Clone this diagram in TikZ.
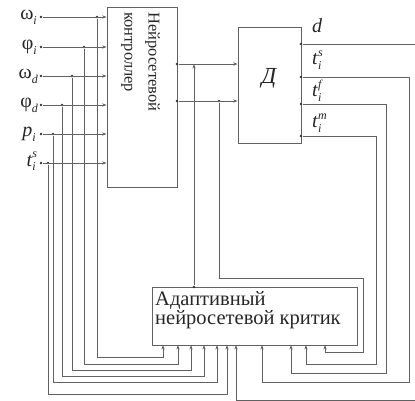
\documentclass[tikz,border=0pt]{standalone}
\usepackage{fontspec}
\setmainfont{Liberation Serif}
\usetikzlibrary{arrows.meta}
\newcommand\SupSub[2]{\makebox[0pt][l]{\raisebox{8.5pt}{\fontsize{12}{12}\selectfont\itshape #1}}\raisebox{-4.5pt}{\fontsize{12}{12}\selectfont\itshape #2}}
\newcommand\SubOnly[1]{\raisebox{-4.5pt}{\fontsize{12}{12}\selectfont\itshape #1}}
\tikzset{
  wire/.style={draw=black!62, line width=0.75pt},
  arr/.style={wire, -{Stealth[length=4.5pt,width=3.2pt]}},
  jdot/.style={circle, fill=black!80, inner sep=0pt, minimum size=2.8pt},
  blk/.style={draw=black!62, line width=0.8pt, inner sep=0pt},
  lab/.style={inner sep=0pt, font=\fontsize{20}{20}\selectfont, text=black!85},
}
\begin{document}
\begin{tikzpicture}[x=1pt,y=-1pt]
\useasboundingbox (0,0) rectangle (415,401);
\begin{scope}
\clip (0,0) rectangle (415,401);

% blocks
\node[blk, minimum width=70pt, minimum height=180pt] (ctrl) at (142,97) {};
\node[blk, minimum width=63pt, minimum height=116pt] (dblk) at (269.5,85) {};
\node[blk, minimum width=205pt, minimum height=58pt] (crit) at (254.5,316) {};

% block texts
\node[inner sep=0pt, rotate=-90, anchor=north west, align=left,
      font=\fontsize{16.5}{24}\selectfont, text=black!85] (ctxt) at (160,12)
      {Нейросетевой\\контроллер};
\node[inner sep=0pt, font=\fontsize{23}{23}\selectfont\itshape, text=black!85] (dtxt) at (269,78) {Д};
\node[inner sep=0pt, anchor=north west, align=left,
      font=\fontsize{20.5}{19}\selectfont, text=black!85] (ktxt) at (155,291)
      {Адаптивный\\нейросетевой критик};

% input labels
\node[lab, anchor=base east] (lwi) at (37,20) {ω\SubOnly{i}};
\node[lab, anchor=base east] (lpi) at (37,50) {φ\SubOnly{i}};
\node[lab, anchor=base east] (lwd) at (38,79) {ω\SubOnly{d}};
\node[lab, anchor=base east] (lpd) at (38,108) {φ\SubOnly{d}};
\node[lab, anchor=base east] (lp) at (36,137) {\textit{p}\SubOnly{i}};
\node[lab, anchor=base east] (lt) at (36,166) {\textit{t}\SupSub{s}{i}};

% output labels of D
\node[lab, anchor=base west] (ld) at (312,33) {\textit{d}};
\node[lab, anchor=base west] (lts) at (312,65) {\textit{t}\SupSub{s}{i}};
\node[lab, anchor=base west] (ltf) at (312,97) {\textit{t}\SupSub{f}{i}};
\node[lab, anchor=base west] (ltm) at (312,128) {\textit{t}\SupSub{m}{i}};

% input dots and taps
\node[jdot] (dwi) at (41,17) {};
\node[jdot] (dpi) at (41,47) {};
\node[jdot] (dwd) at (41,76) {};
\node[jdot] (dpd) at (41,105) {};
\node[jdot] (dp) at (41,134) {};
\node[jdot] (dt) at (41,163) {};
\node[jdot] (twi) at (97,17) {};
\node[jdot] (tpi) at (84,47) {};
\node[jdot] (twd) at (72,76) {};
\node[jdot] (tpd) at (62,105) {};
\node[jdot] (tp) at (53,134) {};
\node[jdot] (tt) at (48,163) {};

% controller outputs
\node[jdot] (o1) at (177,64) {};
\node[jdot] (o2) at (177,101) {};
\node[jdot] (o2t) at (219,101) {};
\node[jdot] (kout) at (194,287) {};

% D outputs
\node[jdot] (od) at (301,44) {};
\node[jdot] (ots) at (301,77) {};
\node[jdot] (otf) at (301,104) {};
\node[jdot] (otm) at (301,136) {};

% critic inputs
\coordinate (k1) at (163,345);
\coordinate (k2) at (178,345);
\coordinate (k3) at (191,345);
\coordinate (k4) at (204,345);
\coordinate (k5) at (217,345);
\coordinate (k6) at (227,345);
\coordinate (k7) at (236,345);
\coordinate (k8) at (262,345);
\coordinate (k9) at (291,345);
\coordinate (k10) at (306,345);
\coordinate (k11) at (325,345);
\coordinate (farA) at (420,44);
\coordinate (farB) at (420,400);

% inputs into controller
\foreach \d in {dwi,dpi,dwd,dpd,dp,dt}
  \draw[arr] (\d) -- (ctrl.west |- \d);

% taps to critic
\draw[arr] (twi) -- (97,357) -| (k1);
\draw[arr] (tpi) -- (84,364) -| (k2);
\draw[arr] (twd) -- (72,370) -| (k3);
\draw[arr] (tpd) -- (62,376) -| (k4);
\draw[arr] (tp) -- (53,382) -| (k5);
\draw[arr] (tt) -- (48,394) -| (k6);

% controller to D
\draw[arr] (o1) -- (dblk.west |- o1);
\draw[arr] (o2) -- (dblk.west |- o2);

% critic output up to controller output line
\draw[arr] (kout) -- (kout |- o1);

% second controller output loop to critic
\draw[arr] (o2t) -- (219,278) -- (363,278) -- (363,352) -| (k11);

% D outputs to critic
\draw[arr] (od) -- (farA) -- (farB) -- (236,400) -- (k7);
\draw[arr] (ots) -- (409,77) -- (409,382) -| (k8);
\draw[arr] (otf) -- (386,104) -- (386,373) -| (k9);
\draw[arr] (otm) -- (376,136) -- (376,364) -| (k10);
\end{scope}
\end{tikzpicture}
\end{document}
